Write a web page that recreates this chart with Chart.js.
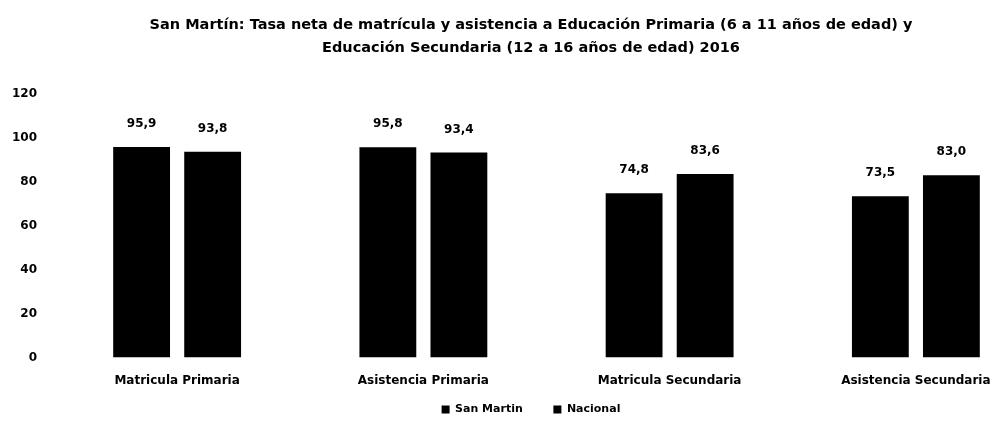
<!DOCTYPE html>
<html lang="es">
<head>
  <meta charset="UTF-8">
  <title>San Martín: Tasa neta de matrícula y asistencia</title>
  <style>
    html, body { margin: 0; padding: 0; background: #fff; overflow: hidden; }
  </style>
</head>
<body>
<div style="width: 1062px; height: 430px;">
  <canvas id="chart" width="1062" height="430"></canvas>
</div>

<script src="https://cdn.jsdelivr.net/npm/chart.js"></script>

<script>
  const categories = ['Matricula Primaria', 'Asistencia Primaria', 'Matricula Secundaria', 'Asistencia Secundaria'];
  const sanMartin = [95.9, 95.8, 74.8, 73.5];
  const nacional = [93.8, 93.4, 83.6, 83.0];
  const yTicks = [0, 20, 40, 60, 80, 100, 120];

  const font = '"DejaVu Sans", sans-serif';

  // values over each bar, with decimal comma
  const valueLabels = {
    id: 'valueLabels',
    afterDatasetsDraw(chart) {
      const ctx = chart.ctx;
      ctx.save();
      ctx.font = `bold 12px ${font}`;
      ctx.fillStyle = '#000';
      ctx.textAlign = 'center';
      ctx.textBaseline = 'middle';
      chart.data.datasets.forEach((ds, i) => {
        chart.getDatasetMeta(i).data.forEach((bar, j) => {
          ctx.fillText(ds.data[j].toFixed(1).replace('.', ','), bar.x, bar.y - 23);
        });
      });
      ctx.restore();
    }
  };

  new Chart(document.getElementById('chart'), {
    type: 'bar',
    data: {
      labels: categories,
      datasets: [
        { label: 'San Martin', data: sanMartin, backgroundColor: '#000', categoryPercentage: 0.577, barPercentage: 0.8 },
        { label: 'Nacional', data: nacional, backgroundColor: '#000', categoryPercentage: 0.577, barPercentage: 0.8 }
      ]
    },
    options: {
      responsive: false,
      animation: false,
      layout: { padding: { bottom: 5 } },
      plugins: {
        title: {
          display: true,
          text: ['San Martín: Tasa neta de matrícula y asistencia a Educación Primaria (6 a 11 años de edad) y',
                 'Educación Secundaria (12 a 16 años de edad) 2016'],
          color: '#000',
          font: { family: font, size: 14.5, weight: 'bold', lineHeight: 1.59 },
          padding: { top: 14, bottom: 34 }
        },
        legend: {
          position: 'bottom',
          labels: {
            color: '#000',
            font: { family: font, size: 11, weight: 'bold', lineHeight: 1 },
            boxWidth: 8,
            boxHeight: 8,
            padding: 0,
            generateLabels(chart) {
              const items = Chart.defaults.plugins.legend.labels.generateLabels(chart);
              items[0].text = items[0].text + '        ';
              return items;
            }
          }
        },
        tooltip: { enabled: false }
      },
      scales: {
        x: {
          grid: { display: false, drawTicks: false },
          border: { display: false },
          ticks: { color: '#000', font: { family: font, size: 12, weight: 'bold' }, padding: 16 }
        },
        y: {
          min: 0,
          max: 120,
          grid: { display: false, drawTicks: false },
          border: { display: false },
          afterBuildTicks(scale) { scale.ticks = yTicks.map(v => ({ value: v })); },
          afterFit(scale) { scale.width = 54; },
          ticks: { color: '#000', font: { family: font, size: 12, weight: 'bold' }, padding: 17 }
        },
        // empty right gutter so the plot ends where the reference does
        yRight: {
          position: 'right',
          grid: { display: false, drawTicks: false },
          border: { display: false },
          ticks: { display: false },
          afterFit(scale) { scale.width = 23; }
        }
      }
    },
    plugins: [valueLabels]
  });
</script>
</body>
</html>
